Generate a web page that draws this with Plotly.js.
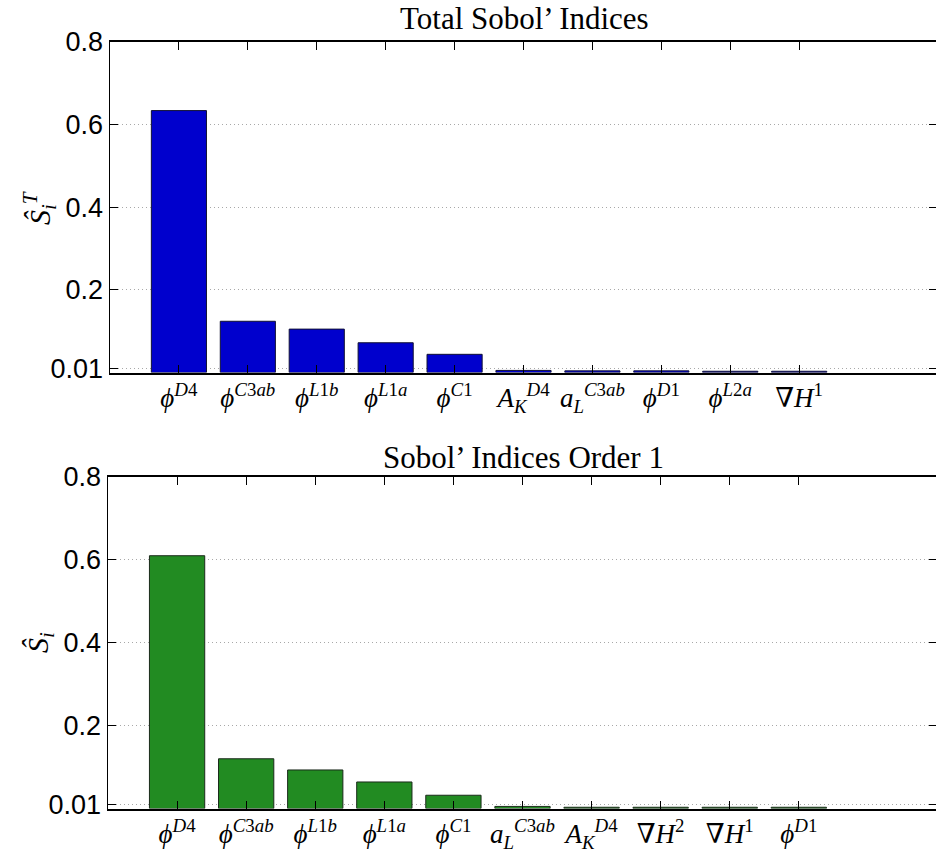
<!DOCTYPE html>
<html>
<head>
<meta charset="utf-8">
<script src="https://cdn.plot.ly/plotly-3.0.1.min.js"></script>
<style>
  html, body { margin: 0; padding: 0; overflow: hidden; background: #fff; }
  #chart { width: 937px; height: 853px; }
</style>
</head>
<body>
<div id="chart"></div>
<script>
// ---- data ----
const totalLabels = [
  '<i>ϕ</i><sup><i>D</i>4</sup>',
  '<i>ϕ</i><sup><i>C</i>3<i>ab</i></sup>',
  '<i>ϕ</i><sup><i>L</i>1<i>b</i></sup>',
  '<i>ϕ</i><sup><i>L</i>1<i>a</i></sup>',
  '<i>ϕ</i><sup><i>C</i>1</sup>',
  '<i>A</i><sub><i>K</i></sub><sup><i>D</i>4</sup>',
  '<i>a</i><sub><i>L</i></sub><sup><i>C</i>3<i>ab</i></sup>',
  '<i>ϕ</i><sup><i>D</i>1</sup>',
  '<i>ϕ</i><sup><i>L</i>2<i>a</i></sup>',
  '∇<i>H</i><sup>1</sup>'
];
const totalValues = [0.634, 0.124, 0.105, 0.072, 0.044, 0.005, 0.004, 0.004, 0.003, 0.003];

const firstLabels = [
  '<i>ϕ</i><sup><i>D</i>4</sup>',
  '<i>ϕ</i><sup><i>C</i>3<i>ab</i></sup>',
  '<i>ϕ</i><sup><i>L</i>1<i>b</i></sup>',
  '<i>ϕ</i><sup><i>L</i>1<i>a</i></sup>',
  '<i>ϕ</i><sup><i>C</i>1</sup>',
  '<i>a</i><sub><i>L</i></sub><sup><i>C</i>3<i>ab</i></sup>',
  '<i>A</i><sub><i>K</i></sub><sup><i>D</i>4</sup>',
  '∇<i>H</i><sup>2</sup>',
  '∇<i>H</i><sup>1</sup>',
  '<i>ϕ</i><sup><i>D</i>1</sup>'
];
const firstValues = [0.610, 0.120, 0.093, 0.064, 0.032, 0.005, 0.003, 0.003, 0.003, 0.003];

const yTickVals = [0.01, 0.2, 0.4, 0.6, 0.8];
const yTickText = ['0.01', '0.2', '0.4', '0.6', '0.8'];

const titleTop = "Total Sobol’ Indices";
const titleBottom = "Sobol’ Indices Order 1";
const yTitleTop = '<i>Ŝ</i><sub><i>i</i></sub><sup><i>T</i></sup>';
const yTitleBottom = '<i>Ŝ</i><sub><i>i</i></sub>';

// ---- build ----
const positions = totalLabels.map((_, i) => i + 1);

const traces = [
  {
    type: 'bar', x: positions, y: totalValues, width: 0.8,
    marker: { color: '#0000CD', line: { color: '#111133', width: 1 } },
    xaxis: 'x', yaxis: 'y', hoverinfo: 'none'
  },
  {
    type: 'bar', x: positions, y: firstValues, width: 0.8,
    marker: { color: '#228B22', line: { color: '#1a2a1a', width: 1 } },
    xaxis: 'x2', yaxis: 'y2', hoverinfo: 'none'
  }
];

const H = 853, W = 937;
const tickFont = { family: 'Liberation Sans, Arial, sans-serif', size: 27, color: '#000' };
const labFont = { family: 'Liberation Serif, DejaVu Serif, serif', size: 27, color: '#000' };

function xAxis(domainLeft, anchor, labels) {
  return {
    domain: [domainLeft / W, 1],
    anchor: anchor,
    range: [0, 12],
    tickvals: positions,
    ticktext: labels,
    ticks: 'inside', ticklen: 8, tickwidth: 1, tickcolor: '#000',
    showline: true, linecolor: '#000', linewidth: 2, mirror: 'ticks',
    showgrid: false, zeroline: false,
    tickfont: labFont,
    fixedrange: true
  };
}
function yAxis(top, bottom, anchor) {
  return {
    domain: [1 - bottom / H, 1 - top / H],
    anchor: anchor,
    range: [0, 0.8],
    tickvals: yTickVals,
    ticktext: yTickText,
    ticks: 'inside', ticklen: 8, tickwidth: 1, tickcolor: '#000',
    showline: true, linecolor: '#000', linewidth: 1.5, mirror: 'ticks',
    showgrid: true, gridcolor: '#a8a8a8', griddash: '1px,3px', gridwidth: 1,
    zeroline: false,
    tickfont: tickFont,
    fixedrange: true
  };
}

const layout = {
  width: W, height: H,
  margin: { l: 0, r: 0, t: 0, b: 0 },
  paper_bgcolor: '#fff', plot_bgcolor: '#fff',
  showlegend: false,
  bargap: 0,
  xaxis: xAxis(110, 'y', totalLabels),
  yaxis: yAxis(42, 372.5, 'x'),
  xaxis2: xAxis(108, 'y2', firstLabels),
  yaxis2: yAxis(477, 808.5, 'x2'),
  annotations: [
    { text: titleTop, xref: 'paper', yref: 'paper', x: 524 / W, y: 1 - 18 / H,
      xanchor: 'center', yanchor: 'middle', showarrow: false,
      font: { family: 'Liberation Serif, serif', size: 31, color: '#000' } },
    { text: titleBottom, xref: 'paper', yref: 'paper', x: 523 / W, y: 1 - 458 / H,
      xanchor: 'center', yanchor: 'middle', showarrow: false,
      font: { family: 'Liberation Serif, serif', size: 31, color: '#000' } },
    { text: yTitleTop, xref: 'paper', yref: 'paper', x: 40 / W, y: 1 - 208 / H,
      xanchor: 'center', yanchor: 'middle', textangle: -90, showarrow: false,
      font: { family: 'Liberation Serif, serif', size: 30, color: '#000' } },
    { text: yTitleBottom, xref: 'paper', yref: 'paper', x: 40 / W, y: 1 - 643 / H,
      xanchor: 'center', yanchor: 'middle', textangle: -90, showarrow: false,
      font: { family: 'Liberation Serif, serif', size: 30, color: '#000' } }
  ]
};

Plotly.newPlot('chart', traces, layout, { staticPlot: true, displayModeBar: false });
</script>
</body>
</html>
